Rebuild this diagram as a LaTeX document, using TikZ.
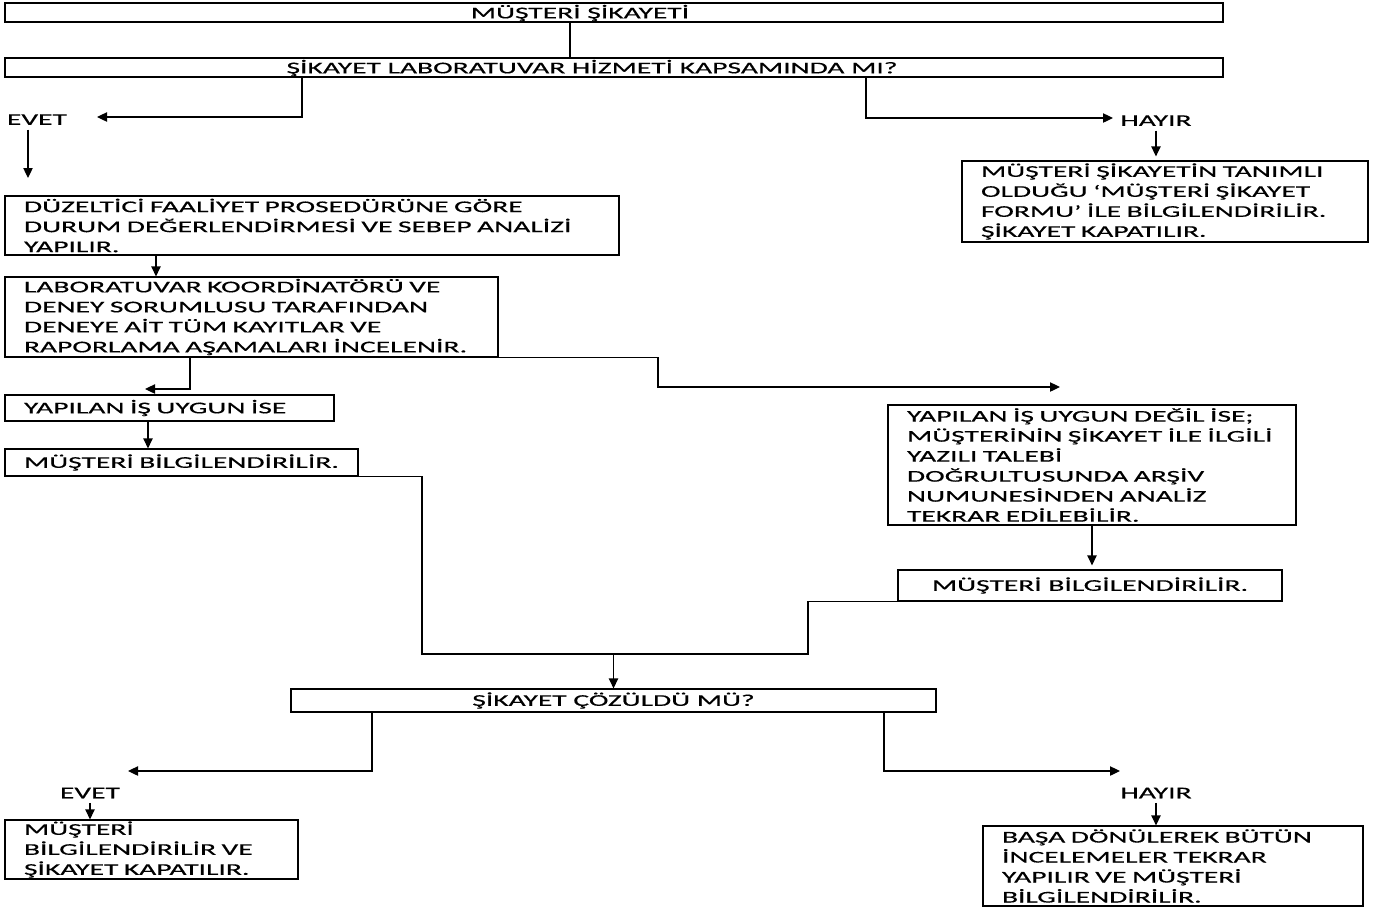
\documentclass[tikz,border=0pt]{standalone}
\usepackage{fontspec}
\setmainfont{Carlito}[FakeStretch=1.8,FakeBold=0.4]
\usetikzlibrary{arrows.meta,positioning}

\begin{document}
\begin{tikzpicture}[x=0.75pt,y=-0.75pt,>={Triangle[length=7.5pt,width=7pt]},
  font=\fontsize{12.3pt}{15pt}\selectfont,
  box/.style 2 args={draw,line width=0.9pt,minimum width=#1*0.75pt,minimum height=#2*0.75pt,inner sep=0pt},
  txtbox/.style 2 args={box={#1}{#2},align=left,text width=#1*0.75pt-28.5pt,inner xsep=14.25pt},
  link/.style={line width=0.9pt}]
  \useasboundingbox (0,0) rectangle (1384,908);

  % question boxes at the top
  \node (top) [box={1218}{19}] at (614,12.5) {};
  \node (topText) at (580,13) {MÜŞTERİ ŞİKAYETİ};
  \node (q1) [box={1218}{19}] at (614,67.5) {};
  \node (q1Text) at (592,68) {ŞİKAYET LABORATUVAR HİZMETİ KAPSAMINDA MI?};

  % bends and free ends
  \coordinate (s1) at (570,0);
  \coordinate (b1) at (302,117);
  \coordinate (yesTip1) at (97,117);
  \coordinate (b2) at (866,118);
  \coordinate (noTip1) at (1113,118);
  \coordinate (corrIn) at (28,178);
  \coordinate (revIn) at (156,0);
  \coordinate (b3) at (190,389);
  \coordinate (okIn) at (145,389);
  \coordinate (b5) at (658,387);
  \coordinate (notokIn) at (1060,387);
  \coordinate (inf1In) at (148,0);
  \coordinate (m1) at (422,654);
  \coordinate (m2) at (808,654);
  \coordinate (b6) at (372,771);
  \coordinate (yesTip2) at (128,771);
  \coordinate (b7) at (884,771);
  \coordinate (noTip2) at (1120,771);

  \node (yes1) [left=19pt of yesTip1,yshift=-2pt] {EVET};
  \node (no1) [right=2pt of noTip1,yshift=-2pt] {HAYIR};

  \node (form) [txtbox={406}{81}] at (1165,201.5) {MÜŞTERİ ŞİKAYETİN TANIMLI\\OLDUĞU ‘MÜŞTERİ ŞİKAYET\\FORMU’ İLE BİLGİLENDİRİLİR.\\ŞİKAYET KAPATILIR.};
  \node (corr) [txtbox={614}{59}] at (312,225.5) {DÜZELTİCİ FAALİYET PROSEDÜRÜNE GÖRE\\DURUM DEĞERLENDİRMESİ VE SEBEP ANALİZİ\\YAPILIR.};
  \node (rev) [txtbox={493}{80}] at (251.5,317) {LABORATUVAR KOORDİNATÖRÜ VE\\DENEY SORUMLUSU TARAFINDAN\\DENEYE AİT TÜM KAYITLAR VE\\RAPORLAMA AŞAMALARI İNCELENİR.};
  \node (ok) [txtbox={329}{26}] at (169.5,408) {YAPILAN İŞ UYGUN İSE};
  \node (inf1) [txtbox={353}{27}] at (181.5,462.5) {\mbox{MÜŞTERİ BİLGİLENDİRİLİR.}};
  \node (notok) [txtbox={408}{120}] at (1092,465) {YAPILAN İŞ UYGUN DEĞİL İSE;\\MÜŞTERİNİN ŞİKAYET İLE İLGİLİ\\YAZILI TALEBİ\\DOĞRULTUSUNDA ARŞİV\\NUMUNESİNDEN ANALİZ\\TEKRAR EDİLEBİLİR.};
  \node (inf2) [box={384}{31}] at (1090,585.5) {MÜŞTERİ BİLGİLENDİRİLİR.};
  \node (solved) [box={645}{23}] at (613.5,700.5) {ŞİKAYET ÇÖZÜLDÜ MÜ?};
  \node (yes2) at (90,793) {EVET};
  \node (no2) at (1156,793) {HAYIR};
  \node (close) [txtbox={293}{59}] at (151.5,849.5) {MÜŞTERİ\\BİLGİLENDİRİLİR VE\\ŞİKAYET KAPATILIR.};
  \node (redo) [txtbox={380}{80}] at (1173,866) {BAŞA DÖNÜLEREK BÜTÜN\\İNCELEMELER TEKRAR\\YAPILIR VE MÜŞTERİ\\BİLGİLENDİRİLİR.};

  % connectors
  \draw[link] (top.south -| s1) -- (q1.north -| s1);
  \draw[link,->] (q1.south -| b1) -- (b1) -- (yesTip1);
  \draw[link,->] (q1.south -| b2) -- (b2) -- (noTip1);
  \draw[link,->] (yes1.south -| corrIn) -- (corrIn);
  \draw[link,->,shorten >=3pt] (no1.south) -- (no1.south |- form.north);
  \draw[link,->] (corr.south -| revIn) -- (rev.north -| revIn);
  \draw[link,->] (rev.south -| b3) -- (b3) -- (okIn);
  \draw[link,->] (rev.south east) -| (b5) -- (notokIn);
  \draw[link,->] (ok.south -| inf1In) -- (inf1.north -| inf1In);
  \draw[link,->,shorten >=3pt] (notok.south) -- (notok.south |- inf2.north);
  \draw[link] (inf1.south) -| (m1) -- (m2) |- (inf2.south west);
  \draw[link,->] (m1 -| solved.north) -- (solved.north);
  \draw[link,->] (solved.south -| b6) -- (b6) -- (yesTip2);
  \draw[link,->] (solved.south -| b7) -- (b7) -- (noTip2);
  \draw[link,->] (yes2.south) -- (yes2.south |- close.north);
  \draw[link,->] (no2.south) -- (no2.south |- redo.north);
\end{tikzpicture}
\end{document}
